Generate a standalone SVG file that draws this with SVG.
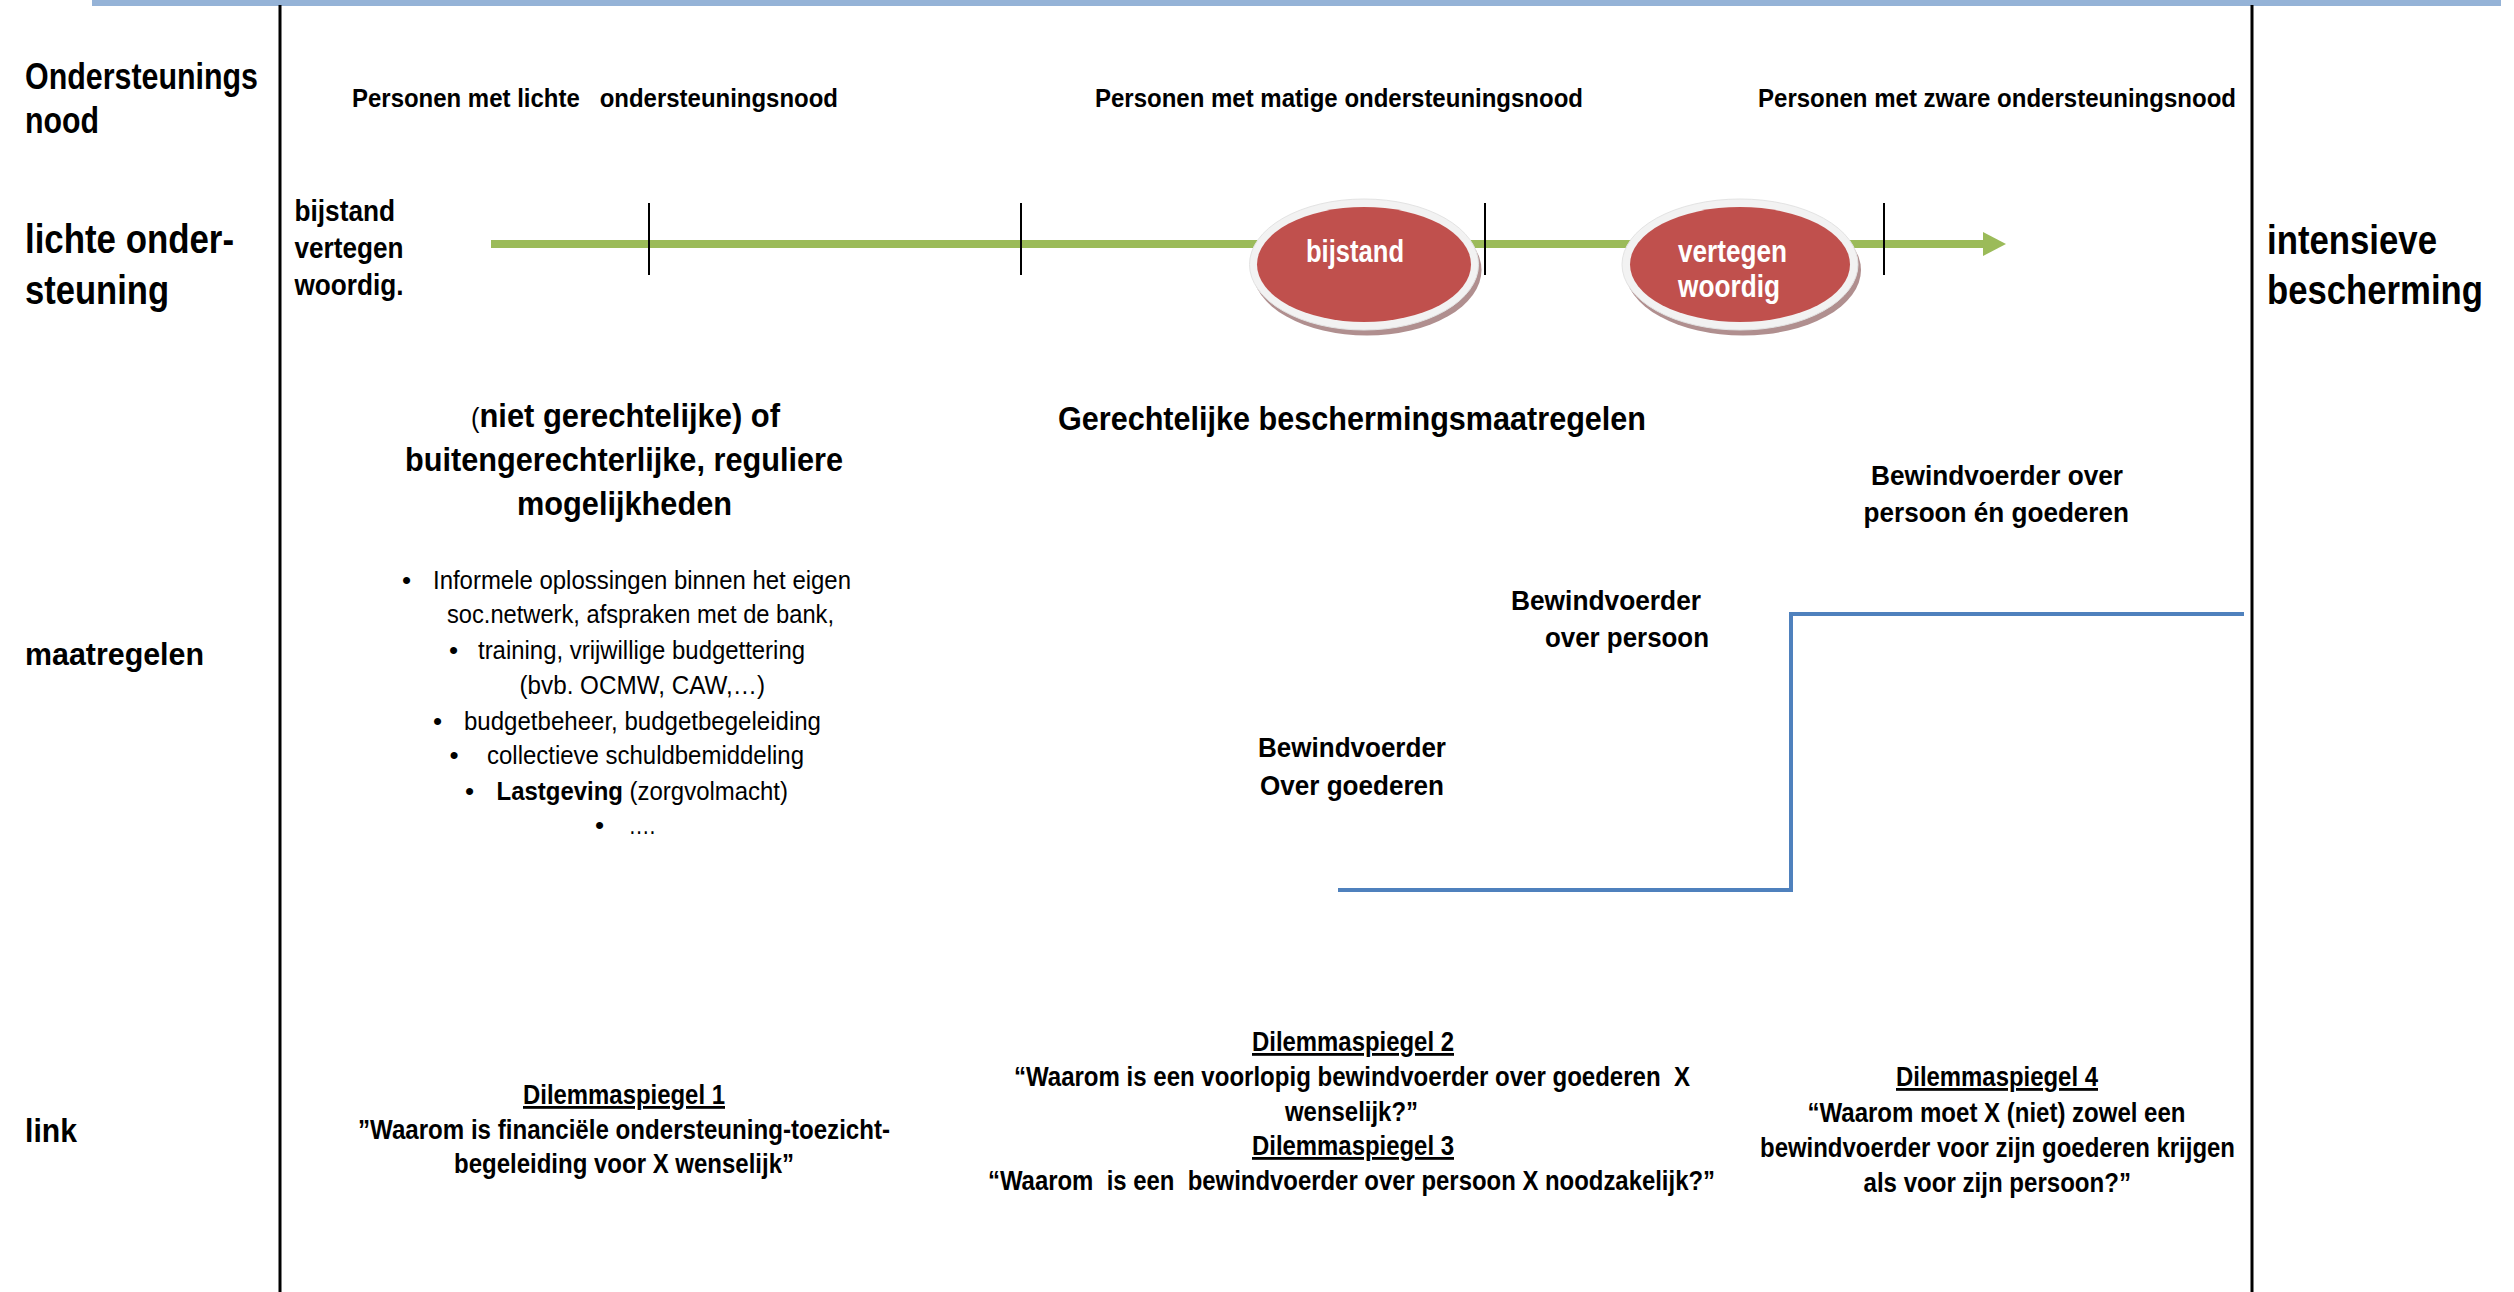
<svg xmlns="http://www.w3.org/2000/svg" width="2514" height="1292" viewBox="0 0 2514 1292">
<style>
text{font-family:"Liberation Sans",Arial,Helvetica,sans-serif;font-weight:bold;fill:#000}
.reg{font-weight:normal}
.lbl36{font-size:36px}
.lbl40{font-size:40px}
.s30{font-size:30px}
.h26{font-size:26px}
.h33{font-size:33px}
.bul{font-size:26px;font-weight:normal}
.b28{font-size:28px}
.ul{text-decoration:underline}
.w{fill:#fff;font-size:31px}
.pre{white-space:pre}
.tick{stroke:#000;stroke-width:2;fill:none}
.frame{stroke:#000;stroke-width:3;fill:none}
.shadow{fill:#B08F8F}
.ring{fill:#F2F2F2;stroke:#E3E3E3;stroke-width:1}
.red{fill:#C0504D}
</style>
<rect x="0" y="0" width="2514" height="1292" fill="#fff"/>
<rect id="topbar" x="92" y="0" width="2409" height="6" fill="#95B3D7"/>
<g id="frame">
<line class="frame" x1="280" y1="5" x2="280" y2="1292"/>
<line class="frame" x1="2252" y1="5" x2="2252" y2="1292"/>
</g>
<g id="row-labels">
<text class="lbl36" x="25" y="89" textLength="233" lengthAdjust="spacingAndGlyphs">Ondersteunings</text>
<text class="lbl36" x="25" y="133" textLength="74" lengthAdjust="spacingAndGlyphs">nood</text>
<text class="lbl40" x="25" y="253" textLength="209" lengthAdjust="spacingAndGlyphs">lichte onder-</text>
<text class="lbl40" x="25" y="304" textLength="144" lengthAdjust="spacingAndGlyphs">steuning</text>
<text x="25" y="665" font-size="31" textLength="179" lengthAdjust="spacingAndGlyphs">maatregelen</text>
<text x="25" y="1142" font-size="33" textLength="52" lengthAdjust="spacingAndGlyphs">link</text>
<text class="lbl40" x="2267" y="254" textLength="170" lengthAdjust="spacingAndGlyphs">intensieve</text>
<text class="lbl40" x="2267" y="304" textLength="216" lengthAdjust="spacingAndGlyphs">bescherming</text>
</g>
<g id="headers">
<text class="h26 pre" x="352" y="107" textLength="486" lengthAdjust="spacingAndGlyphs">Personen met lichte   ondersteuningsnood</text>
<text class="h26" x="1095" y="107" textLength="488" lengthAdjust="spacingAndGlyphs">Personen met matige ondersteuningsnood</text>
<text class="h26" x="1758" y="107" textLength="478" lengthAdjust="spacingAndGlyphs">Personen met zware ondersteuningsnood</text>
</g>
<g id="start-label">
<text class="s30" x="294.5" y="221" textLength="100.5" lengthAdjust="spacingAndGlyphs">bijstand</text>
<text class="s30" x="294.5" y="258" textLength="109" lengthAdjust="spacingAndGlyphs">vertegen</text>
<text class="s30" x="294.5" y="295" textLength="109" lengthAdjust="spacingAndGlyphs">woordig.</text>
</g>
<g id="connectors">
<line x1="491" y1="244" x2="1984" y2="244" stroke="#9BBB59" stroke-width="8"/>
<polygon points="1983,232 2006,244 1983,256" fill="#9BBB59"/>
<polyline points="1338,890 1791,890 1791,614 2244,614" fill="none" stroke="#4F81BD" stroke-width="4"/>
</g>
<g id="node-bijstand">
<ellipse class="shadow" cx="1367" cy="270" rx="114.5" ry="65.5"/>
<ellipse class="ring" cx="1364" cy="264.5" rx="114.5" ry="65.5"/>
<ellipse class="red" cx="1364" cy="264.5" rx="107" ry="57.5"/>
<text class="w" x="1306" y="262" textLength="98" lengthAdjust="spacingAndGlyphs">bijstand</text>
</g>
<g id="node-vertegenwoordig">
<ellipse class="shadow" cx="1743" cy="270" rx="118" ry="65.5"/>
<ellipse class="ring" cx="1740" cy="264.5" rx="118" ry="65.5"/>
<ellipse class="red" cx="1740" cy="264.5" rx="110" ry="57.5"/>
<text class="w" x="1678" y="262" textLength="109" lengthAdjust="spacingAndGlyphs">vertegen</text>
<text class="w" x="1678" y="297" textLength="102" lengthAdjust="spacingAndGlyphs">woordig</text>
</g>
<g id="ticks">
<line class="tick" x1="649" y1="203" x2="649" y2="275"/>
<line class="tick" x1="1021" y1="203" x2="1021" y2="275"/>
<line class="tick" x1="1485" y1="203" x2="1485" y2="275"/>
<line class="tick" x1="1884" y1="203" x2="1884" y2="275"/>
</g>
<g id="node-buitengerechtelijk">
<text class="h33" x="471" y="426.5" textLength="309" lengthAdjust="spacingAndGlyphs"><tspan class="reg" font-size="27">(</tspan>niet gerechtelijke) of</text>
<text class="h33" x="405" y="471" textLength="438" lengthAdjust="spacingAndGlyphs">buitengerechterlijke, reguliere</text>
<text class="h33" x="517" y="515" textLength="215" lengthAdjust="spacingAndGlyphs">mogelijkheden</text>
</g>
<g id="node-maatregelen-lijst">
<text class="bul" x="402" y="588.5">•</text>
<text class="bul" x="433" y="588.5" textLength="418" lengthAdjust="spacingAndGlyphs">Informele oplossingen binnen het eigen</text>
<text class="bul" x="447" y="623" textLength="387" lengthAdjust="spacingAndGlyphs">soc.netwerk, afspraken met de bank,</text>
<text class="bul" x="449" y="659">•</text>
<text class="bul" x="478" y="659" textLength="327" lengthAdjust="spacingAndGlyphs">training, vrijwillige budgettering</text>
<text class="bul" x="519.5" y="694" textLength="245.5" lengthAdjust="spacingAndGlyphs">(bvb. OCMW, CAW,…)</text>
<text class="bul" x="433" y="729.5">•</text>
<text class="bul" x="464" y="729.5" textLength="357" lengthAdjust="spacingAndGlyphs">budgetbeheer, budgetbegeleiding</text>
<text class="bul" x="449.5" y="764">•</text>
<text class="bul" x="487" y="764" textLength="317" lengthAdjust="spacingAndGlyphs">collectieve schuldbemiddeling</text>
<text class="bul" x="465" y="800">•</text>
<text class="bul" x="496.5" y="800" textLength="291.5" lengthAdjust="spacingAndGlyphs"><tspan font-weight="bold">Lastgeving</tspan> (zorgvolmacht)</text>
<text class="bul" x="595" y="834">•</text>
<text class="bul" x="628.5" y="834" textLength="27" lengthAdjust="spacingAndGlyphs">….</text>
</g>
<g id="node-gerechtelijk">
<text class="h33" x="1058" y="430" textLength="588" lengthAdjust="spacingAndGlyphs">Gerechtelijke beschermingsmaatregelen</text>
</g>
<g id="node-bewind-goederen">
<text class="b28" x="1258" y="757" textLength="188" lengthAdjust="spacingAndGlyphs">Bewindvoerder</text>
<text class="b28" x="1260" y="795" textLength="184" lengthAdjust="spacingAndGlyphs">Over goederen</text>
</g>
<g id="node-bewind-persoon">
<text class="b28" x="1511" y="610" textLength="190" lengthAdjust="spacingAndGlyphs">Bewindvoerder</text>
<text class="b28" x="1545" y="647" textLength="164" lengthAdjust="spacingAndGlyphs">over persoon</text>
</g>
<g id="node-bewind-beide">
<text class="b28" x="1871" y="485" textLength="252" lengthAdjust="spacingAndGlyphs">Bewindvoerder over</text>
<text class="b28" x="1863.5" y="522" textLength="265.5" lengthAdjust="spacingAndGlyphs">persoon én goederen</text>
</g>
<g id="node-dilemma1">
<text class="b28 ul" x="523" y="1104" textLength="202" lengthAdjust="spacingAndGlyphs">Dilemmaspiegel 1</text>
<text class="b28" x="358" y="1139" textLength="532" lengthAdjust="spacingAndGlyphs">”Waarom is financiële ondersteuning-toezicht-</text>
<text class="b28" x="454" y="1173" textLength="340" lengthAdjust="spacingAndGlyphs">begeleiding voor X wenselijk”</text>
</g>
<g id="node-dilemma23">
<text class="b28 ul" x="1252" y="1051" textLength="202" lengthAdjust="spacingAndGlyphs">Dilemmaspiegel 2</text>
<text class="b28 pre" x="1014" y="1086" textLength="676" lengthAdjust="spacingAndGlyphs">“Waarom is een voorlopig bewindvoerder over goederen  X</text>
<text class="b28" x="1285" y="1121" textLength="133" lengthAdjust="spacingAndGlyphs">wenselijk?”</text>
<text class="b28 ul" x="1252" y="1155" textLength="202" lengthAdjust="spacingAndGlyphs">Dilemmaspiegel 3</text>
<text class="b28 pre" x="988" y="1190" textLength="727" lengthAdjust="spacingAndGlyphs">“Waarom  is een  bewindvoerder over persoon X noodzakelijk?”</text>
</g>
<g id="node-dilemma4">
<text class="b28 ul" x="1896" y="1086" textLength="202" lengthAdjust="spacingAndGlyphs">Dilemmaspiegel 4</text>
<text class="b28" x="1807.5" y="1122" textLength="378" lengthAdjust="spacingAndGlyphs">“Waarom moet X (niet) zowel een</text>
<text class="b28" x="1760" y="1157" textLength="475" lengthAdjust="spacingAndGlyphs">bewindvoerder voor zijn goederen krijgen</text>
<text class="b28" x="1863.5" y="1192" textLength="267.5" lengthAdjust="spacingAndGlyphs">als voor zijn persoon?”</text>
</g>
</svg>
